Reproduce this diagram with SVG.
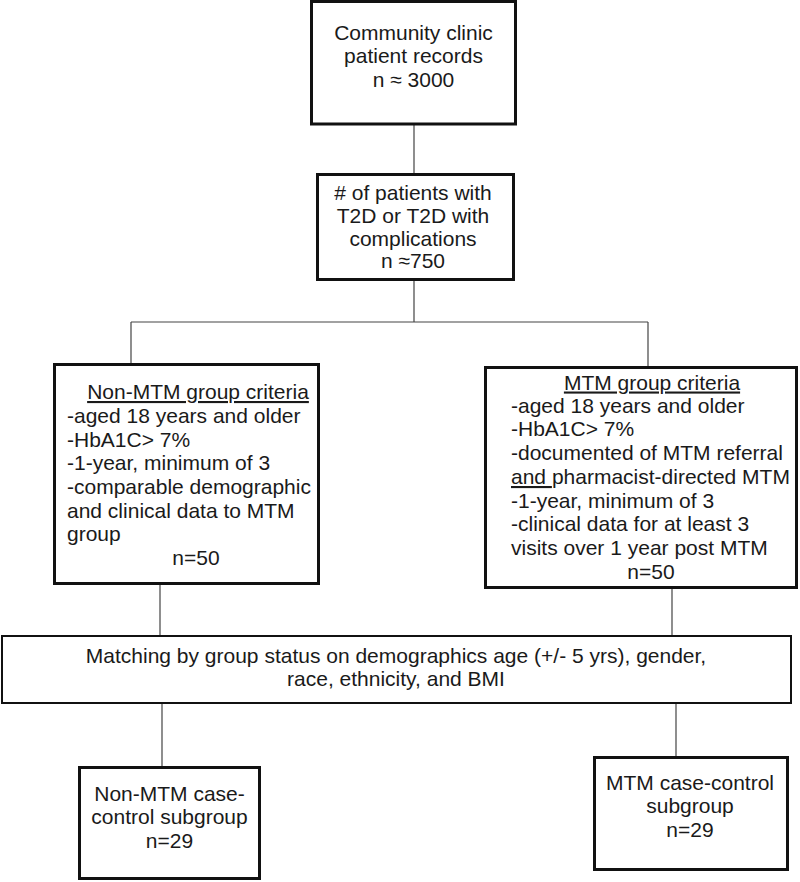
<svg xmlns="http://www.w3.org/2000/svg" width="800" height="882" viewBox="0 0 800 882">
<style>
.box{fill:#fff;stroke:#111;stroke-width:3}
.thin{fill:#fff;stroke:#111;stroke-width:2}
.t{font-family:"Liberation Sans",Arial,sans-serif;font-size:21px;fill:#1a1a1a}
.c{text-anchor:middle}
.conn{stroke:#444;stroke-width:1.2;fill:none}
</style>
<rect width="800" height="882" fill="#fff"/>
<g id="connectors">
<line class="conn" x1="414" y1="124" x2="414" y2="174"/>
<line class="conn" x1="414" y1="281" x2="414" y2="322"/>
<line class="conn" x1="131" y1="322" x2="648" y2="322"/>
<line class="conn" x1="131" y1="322" x2="131" y2="364"/>
<line class="conn" x1="648" y1="322" x2="648" y2="367"/>
<line class="conn" x1="160" y1="585" x2="160" y2="636"/>
<line class="conn" x1="672" y1="589" x2="672" y2="636"/>
<line class="conn" x1="162" y1="704" x2="162" y2="767"/>
<line class="conn" x1="676" y1="704" x2="676" y2="757"/>
</g>
<g id="records">
<rect class="box" x="311.5" y="1.5" width="204" height="122.5"/>
<text class="t c" x="413.5" y="39.5">Community clinic</text>
<text class="t c" x="413.5" y="63">patient records</text>
<text class="t c" x="413.5" y="86.5">n ≈ 3000</text>
</g>
<g id="t2d">
<rect class="box" x="317.5" y="174.5" width="196" height="105"/>
<text class="t c" x="413" y="199.5">&#35; of patients with</text>
<text class="t c" x="413" y="222.5">T2D or T2D with</text>
<text class="t c" x="413" y="245.5">complications</text>
<text class="t c" x="413" y="268">n ≈750</text>
</g>
<g id="nonmtm">
<rect class="box" x="54.5" y="364.5" width="264" height="219"/>
<text class="t c" x="198" y="399" text-decoration="underline">Non-MTM group criteria</text>
<text class="t" x="67" y="422.5">-aged 18 years and older</text>
<text class="t" x="67" y="446.5">-HbA1C&gt; 7%</text>
<text class="t" x="67" y="470">-1-year, minimum of 3</text>
<text class="t" x="67" y="494">-comparable demographic</text>
<text class="t" x="67" y="517.5">and clinical data to MTM</text>
<text class="t" x="67" y="541">group</text>
<text class="t c" x="196" y="565">n=50</text>
</g>
<g id="mtm">
<rect class="box" x="485.5" y="367.5" width="311" height="220"/>
<text class="t c" x="652" y="389.5" text-decoration="underline">MTM group criteria</text>
<text class="t" x="511" y="412.5">-aged 18 years and older</text>
<text class="t" x="511" y="435.5">-HbA1C&gt; 7%</text>
<text class="t" x="511" y="460">-documented of MTM referral</text>
<text class="t" x="511" y="484"><tspan text-decoration="underline">and </tspan>pharmacist-directed MTM</text>
<text class="t" x="511" y="507.5">-1-year, minimum of 3</text>
<text class="t" x="511" y="530.5">-clinical data for at least 3</text>
<text class="t" x="511" y="555">visits over 1 year post MTM</text>
<text class="t c" x="651" y="579">n=50</text>
</g>
<g id="matching">
<rect class="thin" x="2" y="636" width="789" height="67"/>
<text class="t c" x="396" y="662.5">Matching by group status on demographics age (+/- 5 yrs), gender,</text>
<text class="t c" x="396" y="686">race, ethnicity, and BMI</text>
</g>
<g id="nonmtm-sub">
<rect class="box" x="79.5" y="767.5" width="180" height="111"/>
<text class="t c" x="169.5" y="800.5">Non-MTM case-</text>
<text class="t c" x="169.5" y="824">control subgroup</text>
<text class="t c" x="169.5" y="847.5">n=29</text>
</g>
<g id="mtm-sub">
<rect class="box" x="594.5" y="757.5" width="193" height="112"/>
<text class="t c" x="690" y="789.5">MTM case-control</text>
<text class="t c" x="690" y="813">subgroup</text>
<text class="t c" x="690" y="836.5">n=29</text>
</g>
</svg>
